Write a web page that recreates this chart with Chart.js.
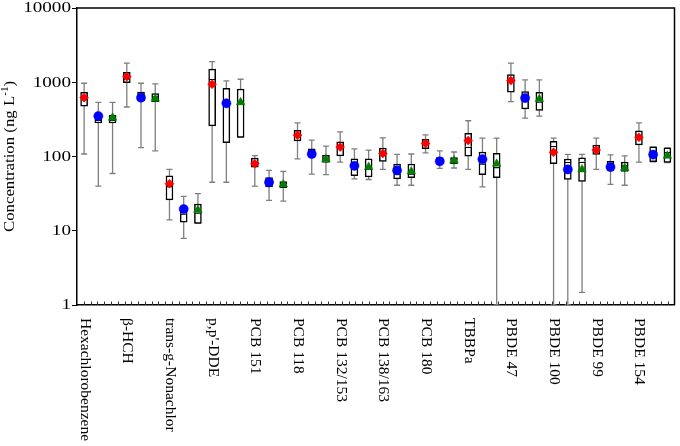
<!DOCTYPE html>
<html>
<head>
<meta charset="utf-8">
<script src="https://cdn.jsdelivr.net/npm/chart.js@4.4.1/dist/chart.umd.min.js"></script>
<style>
  body { margin: 0; background: #fff; }
  #chartDiv { width: 680px; height: 446px; }
</style>
</head>
<body>
<div id="chartDiv"><canvas id="myChart" width="680" height="446"></canvas></div>
<script>
const compounds = ["Hexachlorobenzene", "\u03B2-HCH", "trans-g-Nonachlor", "p,p'-DDE", "PCB 151", "PCB 118",
    "PCB 132/153", "PCB 138/163", "PCB 180", "TBBPa", "PBDE 47", "PBDE 100", "PBDE 99", "PBDE 154"];
const yTicks = [1, 10, 100, 1000, 10000];

// red series (diamonds)
const redMin  = [108, 464, 14, 45, 40, 93, 84, 67, 112, 67, 547, 1, 67, 84];
const redQ1   = [478, 988, 26, 259, 72, 162, 102, 86, 127, 101, 733, 80, 107, 143];
const redMed  = [600, 1133, 40, 1109, 82, 200, 138, 110, 150, 135, 1042, 139, 128, 194];
const redQ3   = [733, 1365, 55, 1500, 95, 226, 157, 130, 170, 205, 1267, 160, 143, 222];
const redMax  = [970, 1806, 67, 1900, 103, 284, 215, 178, 196, 303, 1806, 177, 177, 284];
const redMean = [620, 1190, 43, 940, 80, 194, 134, 110, 150, 164, 1052, 114, 122, 181];

// blue series (circles)
const blueMin  = [40, 132, 7.9, 45, 25.7, 58, 50, 41, 69, 39, 329, 1, 42, 85];
const blueQ1   = [284, 559, 13, 153, 38.8, 98, 55, 50, 79, 57, 436, 49, 65, 85];
const blueMed  = [310, 673, 17, 500, 45, 110, 69, 59, 86, 80, 620, 85, 76, 115];
const blueQ3   = [370, 740, 21, 829, 52, 127, 93, 79, 97, 115, 746, 92, 86, 135];
const blueMax  = [537, 970, 29, 1042, 65, 166, 127, 107, 119, 177, 1074, 107, 105, 135];
const blueMean = [350, 620, 19.6, 520, 45, 108, 75, 65, 86, 92, 613, 67, 72, 106];

// green series (triangles)
const greenMin  = [59, 119, 12.6, 181, 25, 57, 49, 41, 70, 1, 350, 1.48, 41, 83];
const greenQ1   = [284, 547, 12.6, 181, 38, 83, 53, 52, 80, 52, 419, 46, 63, 83];
const greenMed  = [310, 645, 17.5, 520, 42, 90, 69, 59, 88, 72, 547, 85, 76, 115];
const greenQ3   = [360, 702, 22.9, 812, 46, 104, 93, 79, 97, 110, 733, 96, 84, 131];
const greenMax  = [537, 950, 31.6, 1097, 63, 138, 122, 108, 115, 177, 1074, 107, 102, 131];
const greenMean = [333, 600, 19, 537, 42, 92, 72, 63, 88, 80, 595, 67, 70, 102];

const series = [
    { min: redMin, q1: redQ1, med: redMed, q3: redQ3, max: redMax, mean: redMean, color: "#ff0000", style: "rectRot", r: 4.5 },
    { min: blueMin, q1: blueQ1, med: blueMed, q3: blueQ3, max: blueMax, mean: blueMean, color: "#0000ff", style: "circle", r: 4.6 },
    { min: greenMin, q1: greenQ1, med: greenMed, q3: greenQ3, max: greenMax, mean: greenMean, color: "#008000", style: "triangle", r: 5 }
];

// one category per box: 3 boxes per compound
const labels = compounds.flatMap(c => [c, c, c]);
const lowerBox = [];
const upperBox = [];
series.forEach((s, si) => {
    compounds.forEach((c, g) => {
        lowerBox[g * 3 + si] = [s.q1[g], s.med[g]];
        upperBox[g * 3 + si] = [s.med[g], s.q3[g]];
    });
});
const meanSets = series.map((s, si) => {
    const data = labels.map(() => null);
    compounds.forEach((c, g) => { data[g * 3 + si] = s.mean[g]; });
    return {
        type: "line", data: data, showLine: false, order: 0,
        pointStyle: s.style, pointRadius: s.r, pointBackgroundColor: s.color,
        pointBorderColor: s.color, pointBorderWidth: 0.5
    };
});

const serif = '"Liberation Serif", "Times New Roman", serif';

function stretchText(ctx, str, x, y, angle, size, sx, align) {
    ctx.save();
    ctx.translate(x, y);
    ctx.rotate(angle);
    ctx.scale(sx, 1);
    ctx.font = size + "px " + serif;
    ctx.textAlign = align;
    ctx.textBaseline = "middle";
    ctx.fillStyle = "#000";
    ctx.fillText(str, 0, 0);
    ctx.restore();
}

const boxExtras = {
    id: "boxExtras",
    beforeDatasetsDraw(chart) {
        const ctx = chart.ctx, x = chart.scales.x, y = chart.scales.y;
        ctx.save();
        ctx.strokeStyle = "#7f7f7f";
        ctx.lineWidth = 1.3;
        series.forEach((s, si) => {
            compounds.forEach((c, g) => {
                const px = x.getPixelForValue(g * 3 + si);
                const top = y.getPixelForValue(s.max[g]);
                const bot = y.getPixelForValue(s.min[g]);
                ctx.beginPath();
                ctx.moveTo(px, top); ctx.lineTo(px, bot);
                ctx.moveTo(px - 3, top); ctx.lineTo(px + 3, top);
                ctx.moveTo(px - 3, bot); ctx.lineTo(px + 3, bot);
                ctx.stroke();
            });
        });
        ctx.restore();
    },
    afterDraw(chart) {
        const ctx = chart.ctx, a = chart.chartArea, x = chart.scales.x, y = chart.scales.y;
        ctx.save();
        // frame top and right
        ctx.strokeStyle = "#000";
        ctx.lineWidth = 1.5;
        ctx.beginPath();
        ctx.moveTo(a.left, a.top); ctx.lineTo(a.right, a.top); ctx.lineTo(a.right, a.bottom);
        ctx.stroke();
        // minor ticks on the category axis
        ctx.lineWidth = 1;
        ctx.strokeStyle = "#333";
        const step = (a.right - a.left) / 88;
        ctx.beginPath();
        for (let k = 1; k < 88; k++) {
            const tx = Math.round(a.left + k * step) + 0.5;
            ctx.moveTo(tx, a.bottom); ctx.lineTo(tx, a.bottom - 3.5);
        }
        ctx.stroke();
        ctx.restore();

        // y tick labels
        yTicks.forEach(v => {
            stretchText(ctx, String(v), a.left - 6, y.getPixelForValue(v) + 0.5, 0, 14.5, 1.32, "right");
        });
        // category labels, reading top to bottom
        compounds.forEach((c, g) => {
            stretchText(ctx, c, x.getPixelForValue(g * 3) + 0.5, a.bottom + 13, Math.PI / 2, 15.5, 1.0, "left");
        });
        // y title with superscript
        ctx.save();
        ctx.translate(10, (a.top + a.bottom) / 2);
        ctx.rotate(-Math.PI / 2);
        ctx.scale(1.12, 1);
        ctx.fillStyle = "#000";
        ctx.textBaseline = "middle";
        ctx.textAlign = "left";
        const big = "15px " + serif, small = "10px " + serif;
        ctx.font = big;
        const p1 = "Concentration (ng L", p3 = ")";
        const w1 = ctx.measureText(p1).width, w3 = ctx.measureText(p3).width;
        ctx.font = small;
        const w2 = ctx.measureText("-1").width;
        let cx = -(w1 + w2 + w3) / 2;
        ctx.font = big;
        ctx.fillText(p1, cx, 0);
        cx += w1;
        ctx.font = small;
        ctx.fillText("-1", cx, -5);
        cx += w2;
        ctx.font = big;
        ctx.fillText(p3, cx, 0);
        ctx.restore();
    }
};

new Chart(document.getElementById("myChart"), {
    type: "bar",
    data: {
        labels: labels,
        datasets: [
            {
                data: lowerBox, order: 2, grouped: false, barThickness: 7,
                backgroundColor: "#fff", borderColor: "#000", borderWidth: 1.5, borderSkipped: false
            },
            {
                data: upperBox, order: 1, grouped: false, barThickness: 7,
                backgroundColor: "#fff", borderColor: "#000", borderWidth: 1.5, borderSkipped: "start"
            },
            ...meanSets
        ]
    },
    options: {
        responsive: false,
        animation: false,
        devicePixelRatio: 1,
        layout: { padding: { top: 8, right: 2, left: 0, bottom: 0 } },
        plugins: { legend: { display: false }, tooltip: { enabled: false } },
        scales: {
            x: {
                type: "category",
                offset: true,
                grid: { display: false },
                ticks: { display: false },
                border: { display: true, color: "#000", width: 1.5 },
                afterFit: scale => { scale.height = 141; }
            },
            y: {
                type: "logarithmic",
                min: 1,
                max: 10000,
                afterBuildTicks: scale => { scale.ticks = yTicks.map(v => ({ value: v })); },
                ticks: { display: false },
                grid: { drawOnChartArea: false, drawTicks: true, tickLength: 5, color: "#000", lineWidth: 1 },
                border: { display: true, color: "#000", width: 1.5 },
                afterFit: scale => { scale.width = 77; }
            }
        }
    },
    plugins: [boxExtras]
});
</script>
</body>
</html>
